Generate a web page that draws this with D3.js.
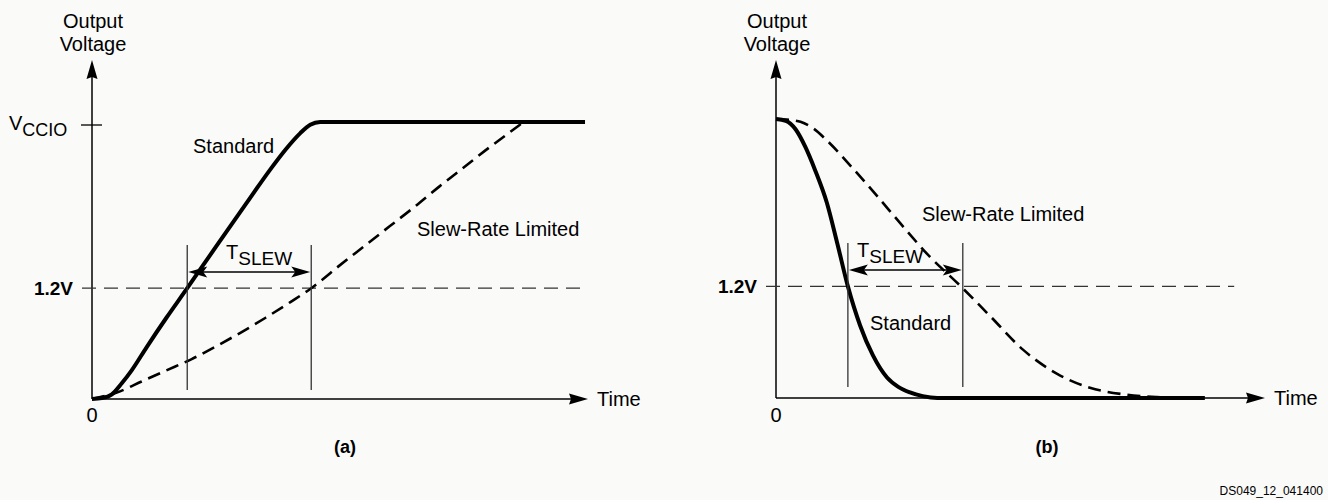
<!DOCTYPE html>
<html>
<head>
<meta charset="utf-8">
<script src="https://cdnjs.cloudflare.com/ajax/libs/d3/7.8.5/d3.min.js"></script>
<style>
  body { margin: 0; background: #fafaf9; }
  svg { display: block; font-family: "Liberation Sans", Arial, Helvetica, sans-serif; }
</style>
</head>
<body>
<script>
// values: time in arbitrary units (0-100 = length of time axis), voltage in V
const vccio = 3.0;
const threshold = 1.2;

// (a) rising edge
const riseTime = [0, 2, 4, 6, 8, 11, 15, 19.2, 25, 31, 36, 39, 42, 44, 46, 99.4];
const riseStandard = [0, 0.01, 0.05, 0.17, 0.31, 0.56, 0.88, 1.20, 1.65, 2.11, 2.49, 2.70, 2.88, 2.97, 3.0, 3.0];
const riseSlewTime = [0, 5, 10, 15, 20, 25, 30, 35, 40, 44.2, 50, 55, 60, 65, 70, 75, 80, 82, 84.5, 87];
const riseSlew = [0, 0.07, 0.19, 0.31, 0.43, 0.57, 0.72, 0.88, 1.05, 1.20, 1.45, 1.66, 1.87, 2.08, 2.30, 2.51, 2.72, 2.80, 2.90, 3.0];
const riseMarks = [19.2, 44.2];

// (b) falling edge
const fallTime = [0, 2, 4, 6, 8, 10.4, 12.5, 14.7, 17.2, 19.8, 22.7, 25, 27.4, 30, 33, 87.7];
const fallStandard = [3.0, 2.98, 2.89, 2.70, 2.45, 2.10, 1.67, 1.20, 0.78, 0.46, 0.22, 0.12, 0.06, 0.02, 0, 0];
const fallSlewTime = [0, 3, 5, 7.6, 10.4, 15.7, 20.7, 25.4, 30.9, 38.0, 43.8, 50.5, 57.5, 64.2, 71.0, 77.9, 84.7];
const fallSlew = [3.0, 2.99, 2.97, 2.90, 2.77, 2.47, 2.17, 1.88, 1.55, 1.19, 0.88, 0.52, 0.26, 0.11, 0.04, 0.01, 0];
const fallMarks = [14.7, 38.2];

const panelLabels = ["(a)", "(b)"];
const seriesNames = ["Standard", "Slew-Rate Limited"];

const svg = d3.select("body").append("svg")
  .attr("width", 1328)
  .attr("height", 500);

function arrowHead(g, x, y, angle, len, half, notch) {
  g.append("path")
    .attr("d", `M0,0 L${-len},${-half} L${-len + notch},0 L${-len},${half} Z`)
    .attr("transform", `translate(${x},${y}) rotate(${angle})`)
    .attr("fill", "#000");
}

function drawPanel(p) {
  const g = svg.append("g");
  const x = d3.scaleLinear().domain([0, 100]).range([p.left, p.right]);
  const y = d3.scaleLinear().domain([0, vccio]).range([p.bottom, p.top]);

  // axes
  g.append("line")
    .attr("x1", x(0)).attr("x2", x(0))
    .attr("y1", y(0)).attr("y2", 64)
    .attr("stroke", "#000").attr("stroke-width", 1.5);
  arrowHead(g, x(0), 60, -90, 19, 5.5, 2);
  g.append("line")
    .attr("x1", x(0)).attr("x2", x(100) - 4)
    .attr("y1", y(0)).attr("y2", y(0))
    .attr("stroke", "#000").attr("stroke-width", 1.5);
  arrowHead(g, x(100), y(0), 0, 19, 5.5, 2);

  g.append("text").attr("x", x(0) + 1).attr("y", 28)
    .attr("text-anchor", "middle").attr("font-size", 20).text("Output");
  g.append("text").attr("x", x(0) + 1).attr("y", 51)
    .attr("text-anchor", "middle").attr("font-size", 20).text("Voltage");
  g.append("text").attr("x", p.right + 9).attr("y", y(0) + 7)
    .attr("font-size", 20).text("Time");
  g.append("text").attr("x", x(0)).attr("y", 422)
    .attr("text-anchor", "middle").attr("font-size", 20).text("0");

  // 1.2V threshold
  g.append("line")
    .attr("x1", x(0) - 10).attr("x2", x(p.thresholdEnd))
    .attr("y1", y(threshold)).attr("y2", y(threshold))
    .attr("stroke", "#333").attr("stroke-width", 1.3)
    .attr("stroke-dasharray", "14,8");
  g.append("text").attr("x", x(0) - 19).attr("y", y(threshold) + 7)
    .attr("text-anchor", "end").attr("font-size", 19).attr("font-weight", "bold")
    .text(threshold + "V");

  if (p.vccioTick) {
    g.append("line")
      .attr("x1", x(0) - 11).attr("x2", x(0) + 10)
      .attr("y1", y(vccio) + 3).attr("y2", y(vccio) + 3)
      .attr("stroke", "#000").attr("stroke-width", 1.3);
    const t = g.append("text").attr("x", 9).attr("y", y(vccio) + 8).attr("font-size", 20);
    t.append("tspan").text("V");
    t.append("tspan").attr("dy", 6).attr("font-size", 18).text("CCIO");
  }

  // curves
  const line = d3.line()
    .x(d => x(d[0]))
    .y(d => y(d[1]))
    .curve(d3.curveMonotoneX);

  g.append("path")
    .datum(d3.zip(p.slewTime, p.slew))
    .attr("d", line)
    .attr("fill", "none").attr("stroke", "#000")
    .attr("stroke-width", 2.6).attr("stroke-dasharray", "13,7");
  g.append("path")
    .datum(d3.zip(p.stdTime, p.std))
    .attr("d", line)
    .attr("fill", "none").attr("stroke", "#000")
    .attr("stroke-width", 4).attr("stroke-linejoin", "round");

  // T_SLEW markers
  g.selectAll(".mark")
    .data(p.marks)
    .join("line")
    .attr("class", "mark")
    .attr("x1", d => x(d)).attr("x2", d => x(d))
    .attr("y1", p.markTop).attr("y2", p.markBottom)
    .attr("stroke", "#333").attr("stroke-width", 1.3);
  g.append("line")
    .attr("x1", x(p.marks[0]) + 8).attr("x2", x(p.marks[1]) - 8)
    .attr("y1", p.arrowY).attr("y2", p.arrowY)
    .attr("stroke", "#000").attr("stroke-width", 1.3);
  arrowHead(g, x(p.marks[0]) + 1, p.arrowY, 180, 19, 5.5, 4);
  arrowHead(g, x(p.marks[1]) - 1, p.arrowY, 0, 19, 5.5, 4);

  const ts = g.append("text").attr("x", p.tslew[0]).attr("y", p.tslew[1]).attr("font-size", 20);
  ts.append("tspan").text("T");
  ts.append("tspan").attr("dy", 6).attr("font-size", 19).text("SLEW");

  g.append("text").attr("x", p.stdLabel[0]).attr("y", p.stdLabel[1])
    .attr("font-size", 20).text(seriesNames[0]);
  g.append("text").attr("x", p.slewLabel[0]).attr("y", p.slewLabel[1])
    .attr("font-size", 20).text(seriesNames[1]);

  g.append("text").attr("x", p.labelX).attr("y", 453)
    .attr("text-anchor", "middle").attr("font-size", 18).attr("font-weight", "bold")
    .text(p.label);
}

drawPanel({
  left: 92, right: 588, bottom: 399, top: 122,
  thresholdEnd: 99.8, vccioTick: true,
  stdTime: riseTime, std: riseStandard,
  slewTime: riseSlewTime, slew: riseSlew,
  marks: riseMarks, markTop: 245, markBottom: 390, arrowY: 272,
  tslew: [226, 259], stdLabel: [193, 153], slewLabel: [417, 236],
  labelX: 345, label: panelLabels[0]
});

drawPanel({
  left: 776, right: 1265, bottom: 398, top: 119,
  thresholdEnd: 93.7, vccioTick: false,
  stdTime: fallTime, std: fallStandard,
  slewTime: fallSlewTime, slew: fallSlew,
  marks: fallMarks, markTop: 243, markBottom: 387, arrowY: 270,
  tslew: [857, 257], stdLabel: [870, 330], slewLabel: [922, 221],
  labelX: 1047, label: panelLabels[1]
});

svg.append("text")
  .attr("x", 1323).attr("y", 495)
  .attr("text-anchor", "end").attr("font-size", 12)
  .text("DS049_12_041400");
</script>
</body>
</html>
